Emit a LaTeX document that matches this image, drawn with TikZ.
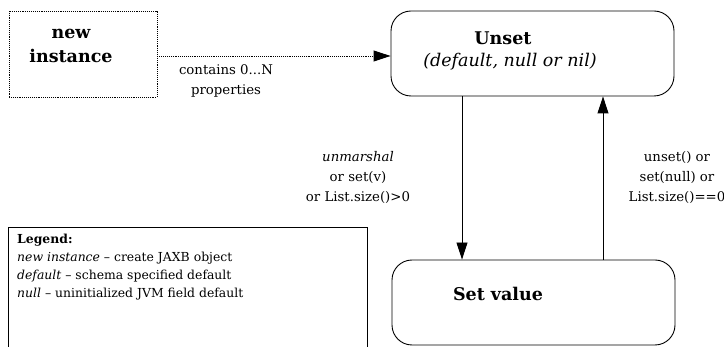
\documentclass[tikz,border=0pt]{standalone}
\usepackage{fontspec}
\setmainfont{DejaVu Serif}
\usetikzlibrary{arrows.meta}
\tikzset{
  state/.style={draw, rounded corners=20pt, minimum width=283pt, minimum height=85pt, line width=0.9pt, inner sep=0pt},
  title/.style={inner sep=0pt, font=\fontsize{17.5}{24}\selectfont\bfseries},
  lbl/.style={font=\fontsize{13.3}{20}\selectfont, align=center, inner sep=0pt},
  arr/.style={-{Triangle[length=17pt,width=11pt]}, line width=0.9pt},
}
\begin{document}
\begin{tikzpicture}[x=1pt,y=-1pt]
\useasboundingbox (0,0) rectangle (724,347);
% new instance
\node[draw, densely dotted, line width=0.9pt, minimum width=148pt, minimum height=86pt, inner sep=0pt] (newinst) at (83,54) {};
\node[title, align=center] (newtxt) at (71,46) {new\\instance};
% states
\node[state] (unset) at (532.5,53.5) {};
\node[title] (unsettitle) at (503,38) {Unset};
\node[inner sep=0pt, font=\fontsize{17.5}{24}\selectfont\itshape] (unsetsub) at (510,62) {(default, null or nil)};
\node[state] (setv) at (533.5,302.5) {};
\node[title] (setvtxt) at (498,294) {Set value};
% arrows
\draw[arr, densely dotted] (newinst.east |- 0,56) -- (unset.west |- 0,56);
\node[lbl] (contains) at (226,81) {contains 0...N\\properties};
\draw[arr] ([xshift=-70.5pt]unset.south) -- ([xshift=-70.5pt]unset.south |- setv.north);
\draw[arr] ([xshift=69.5pt]setv.north) -- ([xshift=69.5pt]setv.north |- unset.south);
\node[lbl] (lefttxt) at (358,177) {\itshape unmarshal\\or set(v)\\or List.size()>0};
\node[lbl] (righttxt) at (677,177) {unset() or\\set(null) or\\List.size()==0};
% legend
\draw[line width=0.9pt] (8,360) -- (8,227) -- (367,227) -- (367,360);
\node[anchor=north west, align=left, inner sep=0pt, font=\fontsize{12.4}{18}\selectfont] (legend) at (17,234)
  {\textbf{Legend:}\\ \textit{new instance} – create JAXB object\\ \textit{default} – schema specified default\\ \textit{null} – uninitialized JVM field default};
\end{tikzpicture}
\end{document}
